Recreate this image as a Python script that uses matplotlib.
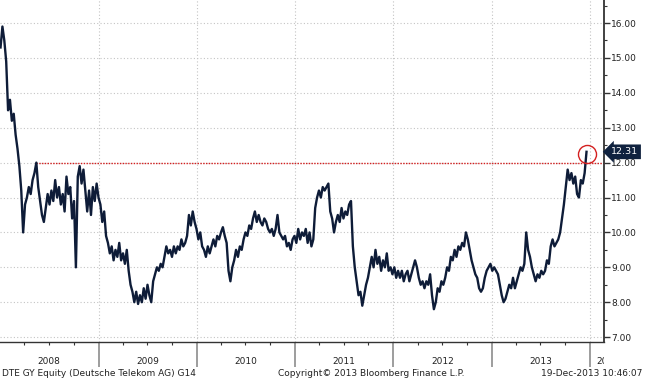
import matplotlib
matplotlib.use("Agg")
import matplotlib.pyplot as plt
import matplotlib.dates as mdates
from matplotlib.ticker import MultipleLocator, FuncFormatter, FixedLocator
from matplotlib.transforms import Bbox, TransformedBbox, blended_transform_factory
import pandas as pd
from datetime import datetime

# Weekly prices (EUR)
prices_2008 = [15.3, 15.9, 15.5, 14.9, 13.5, 13.8, 13.2, 13.4, 12.8, 12.4, 11.9, 11.2, 10.0,
               10.8, 11.0, 11.3, 11.1, 11.5, 11.7, 12.0, 11.3, 10.9, 10.5, 10.3, 10.7, 11.1,
               10.8, 11.2, 10.9, 11.5, 11.0, 11.3, 10.8, 11.1, 10.6, 11.6, 11.1, 11.3, 10.4,
               10.9, 9.0, 11.6, 11.9, 11.4, 11.8, 11.2, 10.6, 11.2, 10.5, 11.3, 10.9, 11.4]
prices_2009 = [11.0, 10.8, 10.3, 10.6, 9.9, 9.7, 9.4, 9.6, 9.2, 9.5, 9.3, 9.7, 9.2,
               9.4, 9.1, 9.5, 8.9, 8.5, 8.3, 8.0, 8.3, 7.95, 8.2, 8.0, 8.4, 8.1,
               8.5, 8.2, 8.0, 8.6, 8.8, 9.0, 8.9, 9.1, 9.0, 9.3, 9.6, 9.4, 9.5,
               9.3, 9.6, 9.4, 9.6, 9.5, 9.8, 9.6, 9.7, 9.9, 10.5, 10.2, 10.6, 10.3]
prices_2010 = [10.1, 9.8, 10.0, 9.6, 9.5, 9.3, 9.6, 9.4, 9.6, 9.8, 9.6, 9.9, 9.8,
               10.0, 10.15, 9.9, 9.7, 8.9, 8.6, 9.0, 9.2, 9.5, 9.3, 9.6, 9.5, 9.8,
               10.0, 9.9, 10.2, 10.1, 10.4, 10.6, 10.3, 10.5, 10.3, 10.2, 10.4, 10.3, 10.1,
               10.0, 10.1, 9.9, 10.1, 10.5, 10.0, 9.9, 9.8, 9.9, 9.6, 9.7, 9.5, 9.8]
prices_2011 = [9.9, 9.7, 10.1, 9.8, 10.0, 9.9, 10.1, 9.7, 10.0, 9.6, 9.8, 10.7, 11.0,
               11.2, 11.0, 11.3, 11.2, 11.3, 11.4, 10.6, 10.4, 10.0, 10.3, 10.5, 10.3, 10.7,
               10.4, 10.6, 10.5, 10.8, 10.9, 9.6, 9.0, 8.6, 8.2, 8.3, 7.9, 8.2, 8.5,
               8.7, 9.0, 9.3, 9.0, 9.5, 9.1, 9.3, 8.9, 9.2, 9.0, 9.4, 8.9, 9.0]
prices_2012 = [8.8, 9.0, 8.7, 8.9, 8.7, 8.9, 8.6, 8.8, 8.9, 8.6, 8.8, 9.0, 9.2,
               9.0, 8.7, 8.5, 8.6, 8.4, 8.6, 8.5, 8.8, 8.2, 7.8, 8.0, 8.4, 8.3,
               8.6, 8.5, 8.7, 9.0, 8.9, 9.3, 9.2, 9.5, 9.3, 9.6, 9.5, 9.7, 9.6,
               10.0, 9.8, 9.5, 9.2, 9.0, 8.8, 8.7, 8.4, 8.3, 8.4, 8.7, 8.9, 9.0]
prices_2013 = [9.1, 8.9, 9.0, 8.9, 8.8, 8.5, 8.2, 8.0, 8.1, 8.3, 8.5, 8.4, 8.7,
               8.4, 8.6, 8.8, 9.0, 8.9, 9.1, 10.0, 9.5, 9.3, 9.0, 8.8, 8.6, 8.8,
               8.7, 8.9, 8.8, 8.9, 9.2, 9.1, 9.6, 9.8, 9.6, 9.7, 9.8, 10.0, 10.4,
               10.8, 11.3, 11.8, 11.5, 11.7, 11.4, 11.6, 11.1, 11.0, 11.5, 11.4, 11.7, 12.31]

prices = prices_2008 + prices_2009 + prices_2010 + prices_2011 + prices_2012 + prices_2013
dates = pd.date_range("2008-01-03", periods=len(prices), freq="7D")

years = [2008, 2009, 2010, 2011, 2012, 2013]
y_ticks = [7, 8, 9, 10, 11, 12, 13, 14, 15, 16]
resistance = 12.0
resistance_start = datetime(2008, 5, 14)
last_value = prices[-1]

title_left = "DTE GY Equity (Deutsche Telekom AG) G14"
copyright_text = "Copyright\u00a9 2013 Bloomberg Finance L.P."
stamp_text = "19-Dec-2013 10:46:07"

W, H = 645, 380
fig = plt.figure(figsize=(W / 100, H / 100), dpi=100)
fig.patch.set_facecolor("white")
ax = fig.add_axes([0, 1 - 342 / H, 604 / W, 342 / H])

x_left = datetime(2008, 1, 1)
x_right = datetime(2014, 2, 22)

ax.plot(dates, prices, color="#0e1c38", lw=1.7, zorder=3)

ax.set_xlim(x_left, x_right)
ax.set_ylim(6.86, 16.66)

# y axis on the right
ax.yaxis.tick_right()
ax.set_yticks(y_ticks)
ax.yaxis.set_minor_locator(MultipleLocator(0.5))
ax.yaxis.set_major_formatter(FuncFormatter(lambda v, p: f"{v:.2f}"))
ax.tick_params(axis="y", which="major", length=4, width=1, color="#333333",
               labelsize=6.5, labelcolor="#222222", pad=1)
ax.tick_params(axis="y", which="minor", length=2, width=0.8, color="#333333")

# x axis: year separators (2009..2014) and quarterly minor ticks
year_bounds = [mdates.date2num(datetime(y + 1, 1, 1)) for y in years]
ax.xaxis.set_major_locator(FixedLocator(year_bounds))
ax.xaxis.set_minor_locator(mdates.MonthLocator(bymonth=[4, 7, 10]))
ax.tick_params(axis="x", which="major", length=18, width=1.2, color="#8c8c8c",
               labelbottom=False)
ax.tick_params(axis="x", which="minor", length=2.5, width=0.8, color="#333333")

ax.grid(axis="both", which="major", linestyle=(0, (1, 2)), color="#c4c4c4", lw=0.8)
ax.set_axisbelow(True)

for s in ["left", "top"]:
    ax.spines[s].set_visible(False)
ax.spines["right"].set_color("#333333")
ax.spines["right"].set_linewidth(1.3)
ax.spines["bottom"].set_color("#333333")
ax.spines["bottom"].set_linewidth(1.0)

# resistance line
ax.hlines(resistance, resistance_start, x_right, colors="#d42020",
          linestyles=(0, (1, 1)), lw=1.0, zorder=2)

# circle at last value
ax.plot([dates[-1]], [last_value - 0.05], marker="o", ms=13, mfc="none",
        mec="#d42020", mew=1.0, zorder=4, clip_on=False)

# last value tag
ax.annotate(f"{last_value:.2f}", xy=(1, last_value), xycoords=("axes fraction", "data"),
            xytext=(5, 0), textcoords="offset points", ha="left", va="center",
            color="white", fontsize=6.8, annotation_clip=False,
            bbox=dict(boxstyle="larrow,pad=0.3", fc="#10223f", ec="none"))

# year labels
trans = blended_transform_factory(ax.transData, ax.transAxes)
for y in years:
    ax.text(datetime(y, 7, 2), -19 / 342, str(y), transform=trans, ha="center",
            va="center", fontsize=6.5, color="#222222", clip_on=False)

t14 = fig.text(596 / W, 1 - 361 / H, "2014", ha="left", va="center",
               fontsize=6.5, color="#222222")
t14.set_clip_box(TransformedBbox(Bbox.from_extents(0, 0, 604 / W, 1), fig.transFigure))
t14.set_clip_on(True)

# footer
fig.text(2 / W, 1 - 373 / H, title_left, ha="left", va="center", fontsize=6.5, color="#222222")
fig.text(278 / W, 1 - 373 / H, copyright_text, ha="left", va="center", fontsize=6.5,
         color="#222222")
fig.text(642 / W, 1 - 373 / H, stamp_text, ha="right", va="center", fontsize=6.5,
         color="#222222")

fig.savefig("out.png", dpi=100)
